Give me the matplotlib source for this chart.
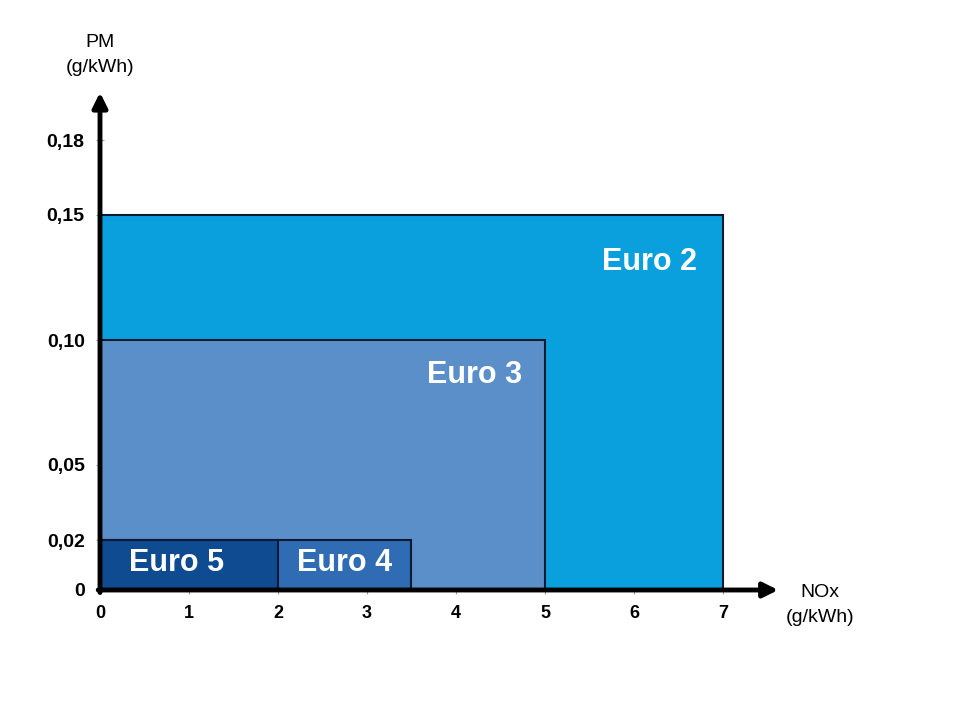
import matplotlib
matplotlib.use("Agg")
import matplotlib.pyplot as plt

plt.rcParams['font.family'] = ['Liberation Sans', 'DejaVu Sans']

# Data
standards = ["Euro 2", "Euro 3", "Euro 4", "Euro 5"]
nox_limits = [7.0, 5.0, 3.5, 2.0]
pm_limits = [0.15, 0.10, 0.02, 0.02]
colors = ["#0aa0dd", "#5b8fca", "#2f6cb4", "#0f4b91"]
label_pos_x = [6.17, 4.21, 2.75, 0.86]
label_pos_y = [0.131, 0.086, 0.0108, 0.0108]
xticks = [0, 1, 2, 3, 4, 5, 6, 7]
yticks = [0, 0.02, 0.05, 0.10, 0.15, 0.18]
ytick_labels = ["0", "0,02", "0,05", "0,10", "0,15", "0,18"]

fig = plt.figure(figsize=(9.66, 7.02), dpi=100)
W, H = 966, 702
x0_px, y0_px = 100, 590
px_per_x = 89.0
px_per_y = 2500.0
xmax, ymax = 7.6, 0.197
ax = fig.add_axes([x0_px / W, (H - y0_px) / H, xmax * px_per_x / W, ymax * px_per_y / H])
ax.set_xlim(0, xmax)
ax.set_ylim(0, ymax)

for name, nx, pm, c in zip(standards, nox_limits, pm_limits, colors):
    ax.bar(0, pm, width=nx, align='edge', color=c, edgecolor="#0b1a30", linewidth=1.5, zorder=2)

for name, lx, ly in zip(standards, label_pos_x, label_pos_y):
    ax.text(lx, ly, name, color="white", fontsize=22, fontweight='bold',
            ha='center', va='center', zorder=4)

for s in ax.spines.values():
    s.set_visible(False)

ax.set_xticks(xticks)
ax.set_xticklabels([str(v) for v in xticks], fontsize=13, fontweight='bold')
ax.set_yticks(yticks)
ax.set_yticklabels(ytick_labels, fontsize=14, fontweight='bold')
ax.tick_params(axis='both', direction='inout', length=6, width=0.8, color="#999999", pad=8)
ax.tick_params(axis='y', pad=8)

# Axes with arrows
ax.annotate("", xy=(xmax + 0.02, 0), xytext=(-0.02, 0), xycoords='data',
            arrowprops=dict(arrowstyle='-|>', color='black', lw=3.5, mutation_scale=22,
                            shrinkA=0, shrinkB=0), annotation_clip=False, zorder=5)
ax.annotate("", xy=(0, ymax + 0.002), xytext=(0, -0.001), xycoords='data',
            arrowprops=dict(arrowstyle='-|>', color='black', lw=3.5, mutation_scale=22,
                            shrinkA=0, shrinkB=0), annotation_clip=False, zorder=5)

fig.text(100 / W, 1 - 55 / H, "PM\n(g/kWh)", ha='center', va='center', fontsize=14,
         linespacing=1.6)
fig.text(820 / W, 1 - 605 / H, "NOx\n(g/kWh)", ha='center', va='center', fontsize=14,
         linespacing=1.6)

fig.savefig("out.png", dpi=100, facecolor="white")
